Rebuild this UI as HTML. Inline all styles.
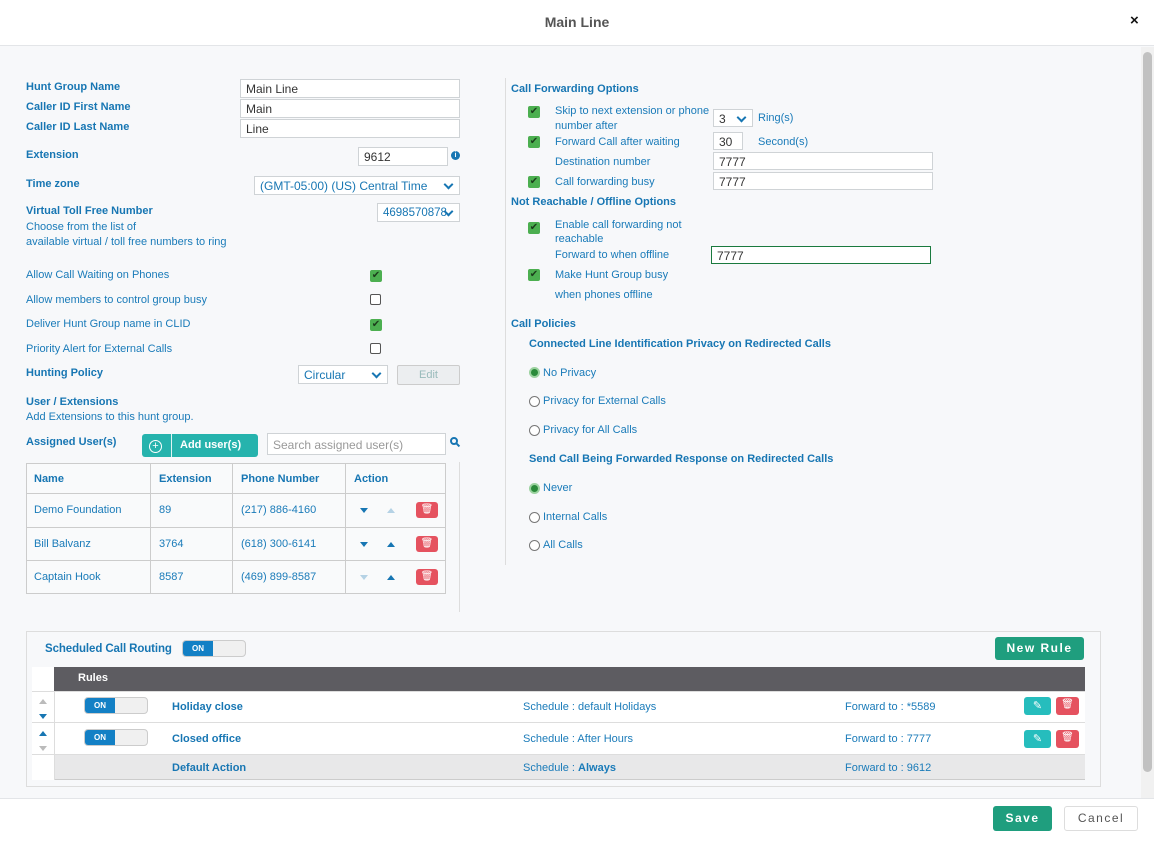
<!DOCTYPE html><html><head><style>
*{box-sizing:border-box;margin:0;padding:0}
body{width:1154px;height:856px;background:#f7f8fa;font-family:"Liberation Sans",Arial,sans-serif;font-size:11px;color:#1a7bb9;position:relative;overflow:hidden}
.a{position:absolute}
.b{font-weight:bold;color:#1776b3}
.in{position:absolute;background:#fff;border:1px solid #cfd3d6;color:#333;font-size:12px;padding:3px 5px;height:19px;line-height:12px;overflow:hidden;white-space:nowrap}
.cb{position:absolute;width:12px;height:12px;background:#4caf50;border-radius:2px;color:#1c3d1c;font-size:10px;line-height:12px;text-align:center}
.ub{position:absolute;width:11px;height:11px;border:1px solid #555;border-radius:2px;background:#fff}
.rd{position:absolute;width:11px;height:11px;border:1px solid #777;border-radius:50%;background:#fff}
.rd.on{background:#2a8a3a;border:2px solid #9bd29f}
.sel{padding-right:18px}
.sel:after{content:"";position:absolute;right:7px;top:4px;width:5px;height:5px;border-right:2px solid #1776b3;border-bottom:2px solid #1776b3;transform:rotate(45deg)}
.tr{position:absolute;width:0;height:0;border-left:4px solid transparent;border-right:4px solid transparent}
.dn{border-top:5px solid #1776b3}.up{border-bottom:5px solid #1776b3}
.del{position:absolute;width:22px;height:16px;background:#e5525f;border-radius:3px;color:#fff;font-size:10px;text-align:center;line-height:16px}
.edt{position:absolute;width:27px;height:18px;background:#26bdbd;border-radius:3px;color:#fff;font-size:11px;text-align:center;line-height:18px}
.tog{position:absolute;width:64px;height:17px;border:1px solid #ccc;border-radius:4px;background:#f0f0f0}
.tog span{position:absolute;left:0;top:0;width:30px;height:15px;background:#1380c5;border-radius:3px 0 0 3px;color:#fff;font-size:8px;font-weight:bold;text-align:center;line-height:15px}
</style></head><body>
<div class="a" style="left:0;top:0;width:1154px;height:46px;background:#fff;border-bottom:1px solid #e3e5e8"></div>
<div class="a" style="left:0;top:14px;width:1154px;text-align:center;font-size:14px;font-weight:bold;color:#555">Main Line</div>
<div class="a" style="left:1130px;top:12px;font-size:15px;font-weight:bold;color:#111">×</div>
<div class="a" style="left:1141px;top:47px;width:13px;height:751px;background:#f1f1f1"></div>
<div class="a" style="left:1143px;top:52px;width:9px;height:720px;background:#c1c1c1;border-radius:5px"></div>
<div class="a" style="left:0;top:798px;width:1154px;height:58px;background:#fff;border-top:1px solid #e3e5e8"></div>

<div class="a b" style="left:26px;top:81px">Hunt Group Name</div>
<div class="a b" style="left:26px;top:101px">Caller ID First Name</div>
<div class="a b" style="left:26px;top:121px">Caller ID Last Name</div>
<div class="in" style="left:240px;top:79px;width:220px">Main Line</div>
<div class="in" style="left:240px;top:99px;width:220px">Main</div>
<div class="in" style="left:240px;top:119px;width:220px">Line</div>
<div class="a b" style="left:26px;top:149px">Extension</div>
<div class="in" style="left:358px;top:147px;width:90px">9612</div>
<div class="a" style="left:451px;top:151px;width:9px;height:9px;border-radius:50%;background:#1776b3;color:#fff;font-size:7px;text-align:center;line-height:9px;font-weight:bold">i</div>
<div class="a b" style="left:26px;top:178px">Time zone</div>
<div class="in sel" style="left:254px;top:176px;width:206px;color:#1776b3">(GMT-05:00) (US) Central Time</div>
<div class="a b" style="left:26px;top:205px">Virtual Toll Free Number</div>
<div class="a" style="left:26px;top:221px">Choose from the list of</div>
<div class="a" style="left:26px;top:236px">available virtual / toll free numbers to ring</div>
<div class="in sel" style="left:377px;top:203px;width:83px;color:#1776b3;padding-left:5px;font-size:11.5px">4698570878</div>
<div class="a" style="left:26px;top:269px">Allow Call Waiting on Phones</div>
<div class="cb" style="left:370px;top:270px">✔</div>
<div class="a" style="left:26px;top:294px">Allow members to control group busy</div>
<div class="ub" style="left:370px;top:294px"></div>
<div class="a" style="left:26px;top:318px">Deliver Hunt Group name in CLID</div>
<div class="cb" style="left:370px;top:319px">✔</div>
<div class="a" style="left:26px;top:343px">Priority Alert for External Calls</div>
<div class="ub" style="left:370px;top:343px"></div>
<div class="a b" style="left:26px;top:367px">Hunting Policy</div>
<div class="in sel" style="left:298px;top:365px;width:90px;color:#1776b3">Circular</div>
<div class="a" style="left:397px;top:365px;width:63px;height:20px;border:1px solid #ccc;background:#eceef0;border-radius:2px;text-align:center;line-height:18px;color:#9bb">Edit</div>
<div class="a b" style="left:26px;top:396px">User / Extensions</div>
<div class="a" style="left:26px;top:411px">Add Extensions to this hunt group.</div>
<div class="a b" style="left:26px;top:436px">Assigned User(s)</div>
<div class="a" style="left:142px;top:434px;width:116px;height:23px;background:#26b3ad;border-radius:3px"></div>
<div class="a" style="left:171px;top:434px;width:1px;height:23px;background:#e0f4f3"></div>
<div class="a" style="left:149px;top:440px;width:13px;height:13px;border:1.5px solid #fff;border-radius:50%;color:#fff;font-size:11px;line-height:10px;text-align:center">+</div>
<div class="a" style="left:180px;top:439px;color:#fff;font-weight:bold">Add user(s)</div>
<div class="in" style="left:267px;top:433px;width:179px;height:22px;color:#999;padding-top:5px">Search assigned user(s)</div>
<div class="a" style="left:450px;top:437px;width:8px;height:8px;border:2px solid #1776b3;border-radius:50%"></div>
<div class="a" style="left:456px;top:444px;width:4px;height:2px;background:#1776b3;transform:rotate(45deg)"></div>
<div class="a" style="left:459px;top:462px;width:1px;height:150px;background:#ddd"></div>
<div class="a" style="left:26px;top:463px;width:420px;height:131px;border:1px solid #ccc;background:#f9fafb"></div>
<div class="a" style="left:27px;top:493px;width:418px;height:1px;background:#ccc"></div>
<div class="a" style="left:27px;top:527px;width:418px;height:1px;background:#ccc"></div>
<div class="a" style="left:27px;top:560px;width:418px;height:1px;background:#ccc"></div>
<div class="a" style="left:150px;top:464px;width:1px;height:129px;background:#ccc"></div>
<div class="a" style="left:232px;top:464px;width:1px;height:129px;background:#ccc"></div>
<div class="a" style="left:345px;top:464px;width:1px;height:129px;background:#ccc"></div>
<div class="a b" style="left:34px;top:473px">Name</div><div class="a b" style="left:159px;top:473px">Extension</div><div class="a b" style="left:241px;top:473px">Phone Number</div><div class="a b" style="left:354px;top:473px">Action</div>
<div class="a" style="left:34px;top:504px">Demo Foundation</div><div class="a" style="left:159px;top:504px">89</div><div class="a" style="left:241px;top:504px">(217) 886-4160</div>
<div class="a" style="left:34px;top:538px">Bill Balvanz</div><div class="a" style="left:159px;top:538px">3764</div><div class="a" style="left:241px;top:538px">(618) 300-6141</div>
<div class="a" style="left:34px;top:571px">Captain Hook</div><div class="a" style="left:159px;top:571px">8587</div><div class="a" style="left:241px;top:571px">(469) 899-8587</div>
<div class="tr dn" style="left:360px;top:508px"></div><div class="tr up" style="left:387px;top:508px;opacity:.3"></div><div class="del" style="left:416px;top:502px">🗑</div>
<div class="tr dn" style="left:360px;top:542px"></div><div class="tr up" style="left:387px;top:542px"></div><div class="del" style="left:416px;top:536px">🗑</div>
<div class="tr dn" style="left:360px;top:575px;opacity:.3"></div><div class="tr up" style="left:387px;top:575px"></div><div class="del" style="left:416px;top:569px">🗑</div>

<div class="a" style="left:505px;top:78px;width:1px;height:487px;background:#ddd"></div>
<div class="a b" style="left:511px;top:83px">Call Forwarding Options</div>
<div class="cb" style="left:528px;top:106px">✔</div><div class="a" style="left:555px;top:105px">Skip to next extension or phone</div><div class="a" style="left:555px;top:120px">number after</div>
<div class="in sel" style="left:713px;top:109px;width:40px;height:18px">3</div><div class="a" style="left:758px;top:112px">Ring(s)</div>
<div class="cb" style="left:528px;top:136px">✔</div><div class="a" style="left:555px;top:136px">Forward Call after waiting</div>
<div class="in" style="left:713px;top:132px;width:30px;height:18px">30</div><div class="a" style="left:758px;top:136px">Second(s)</div>
<div class="a" style="left:555px;top:156px">Destination number</div><div class="in" style="left:713px;top:152px;width:220px;height:18px">7777</div>
<div class="cb" style="left:528px;top:176px">✔</div><div class="a" style="left:555px;top:176px">Call forwarding busy</div><div class="in" style="left:713px;top:172px;width:220px;height:18px">7777</div>
<div class="a b" style="left:511px;top:196px">Not Reachable / Offline Options</div>
<div class="cb" style="left:528px;top:222px">✔</div><div class="a" style="left:555px;top:219px">Enable call forwarding not</div><div class="a" style="left:555px;top:233px">reachable</div>
<div class="a" style="left:555px;top:249px">Forward to when offline</div><div class="in" style="left:711px;top:246px;width:220px;height:18px;border-color:#1a7a3e">7777</div>
<div class="cb" style="left:528px;top:269px">✔</div><div class="a" style="left:555px;top:269px">Make Hunt Group busy</div><div class="a" style="left:555px;top:289px">when phones offline</div>
<div class="a b" style="left:511px;top:318px">Call Policies</div>
<div class="a b" style="left:529px;top:338px">Connected Line Identification Privacy on Redirected Calls</div>
<div class="rd on" style="left:529px;top:367px"></div><div class="a" style="left:543px;top:367px">No Privacy</div>
<div class="rd" style="left:529px;top:396px"></div><div class="a" style="left:543px;top:395px">Privacy for External Calls</div>
<div class="rd" style="left:529px;top:425px"></div><div class="a" style="left:543px;top:424px">Privacy for All Calls</div>
<div class="a b" style="left:529px;top:453px">Send Call Being Forwarded Response on Redirected Calls</div>
<div class="rd on" style="left:529px;top:483px"></div><div class="a" style="left:543px;top:482px">Never</div>
<div class="rd" style="left:529px;top:512px"></div><div class="a" style="left:543px;top:511px">Internal Calls</div>
<div class="rd" style="left:529px;top:540px"></div><div class="a" style="left:543px;top:539px">All Calls</div>

<div class="a" style="left:26px;top:631px;width:1075px;height:156px;border:1px solid #ddd;background:#f7f8fa"></div>
<div class="a b" style="left:45px;top:643px;font-size:11.5px;letter-spacing:-0.1px">Scheduled Call Routing</div>
<div class="tog" style="left:182px;top:640px"><span>ON</span></div>
<div class="a" style="left:995px;top:637px;width:89px;height:23px;background:#1f9e7e;border-radius:3px;color:#fff;font-weight:bold;font-size:12px;letter-spacing:1.5px;text-align:center;line-height:23px">New Rule</div>
<div class="a" style="left:32px;top:667px;width:1053px;height:113px;background:#fff"></div>
<div class="a" style="left:54px;top:667px;width:1031px;height:24px;background:#5d5c61"></div>
<div class="a" style="left:78px;top:672px;color:#fff;font-weight:bold">Rules</div>
<div class="a" style="left:32px;top:691px;width:1053px;height:1px;background:#ddd"></div>
<div class="a" style="left:32px;top:722px;width:1053px;height:1px;background:#ddd"></div>
<div class="a" style="left:32px;top:754px;width:1053px;height:1px;background:#ddd"></div>
<div class="a" style="left:54px;top:691px;width:1px;height:89px;background:#ddd"></div>
<div class="a" style="left:55px;top:755px;width:1030px;height:25px;background:#e8e8e9;border-bottom:1px solid #ccc"></div>
<div class="tr up" style="left:39px;top:699px;border-bottom-color:#bbb"></div><div class="tr dn" style="left:39px;top:714px"></div>
<div class="tr up" style="left:39px;top:731px"></div><div class="tr dn" style="left:39px;top:746px;border-top-color:#bbb"></div>
<div class="tog" style="left:84px;top:697px"><span>ON</span></div>
<div class="tog" style="left:84px;top:729px"><span>ON</span></div>
<div class="a b" style="left:172px;top:701px">Holiday close</div><div class="a" style="left:523px;top:701px">Schedule : default Holidays</div><div class="a" style="left:845px;top:701px">Forward to : *5589</div>
<div class="a b" style="left:172px;top:733px">Closed office</div><div class="a" style="left:523px;top:733px">Schedule : After Hours</div><div class="a" style="left:845px;top:733px">Forward to : 7777</div>
<div class="a b" style="left:172px;top:762px">Default Action</div><div class="a" style="left:523px;top:762px">Schedule : <b>Always</b></div><div class="a" style="left:845px;top:762px">Forward to : 9612</div>
<div class="edt" style="left:1024px;top:697px">✎</div><div class="del" style="left:1056px;top:697px;height:18px;width:23px">🗑</div>
<div class="edt" style="left:1024px;top:730px">✎</div><div class="del" style="left:1056px;top:730px;height:18px;width:23px">🗑</div>

<div class="a" style="left:993px;top:806px;width:59px;height:25px;background:#1f9e7e;border-radius:3px;color:#fff;font-weight:bold;font-size:12px;letter-spacing:1.5px;text-align:center;line-height:25px">Save</div>
<div class="a" style="left:1064px;top:806px;width:74px;height:25px;background:#fff;border:1px solid #ddd;border-radius:3px;color:#555;font-size:12px;letter-spacing:1.5px;text-align:center;line-height:23px">Cancel</div>
</body></html>
